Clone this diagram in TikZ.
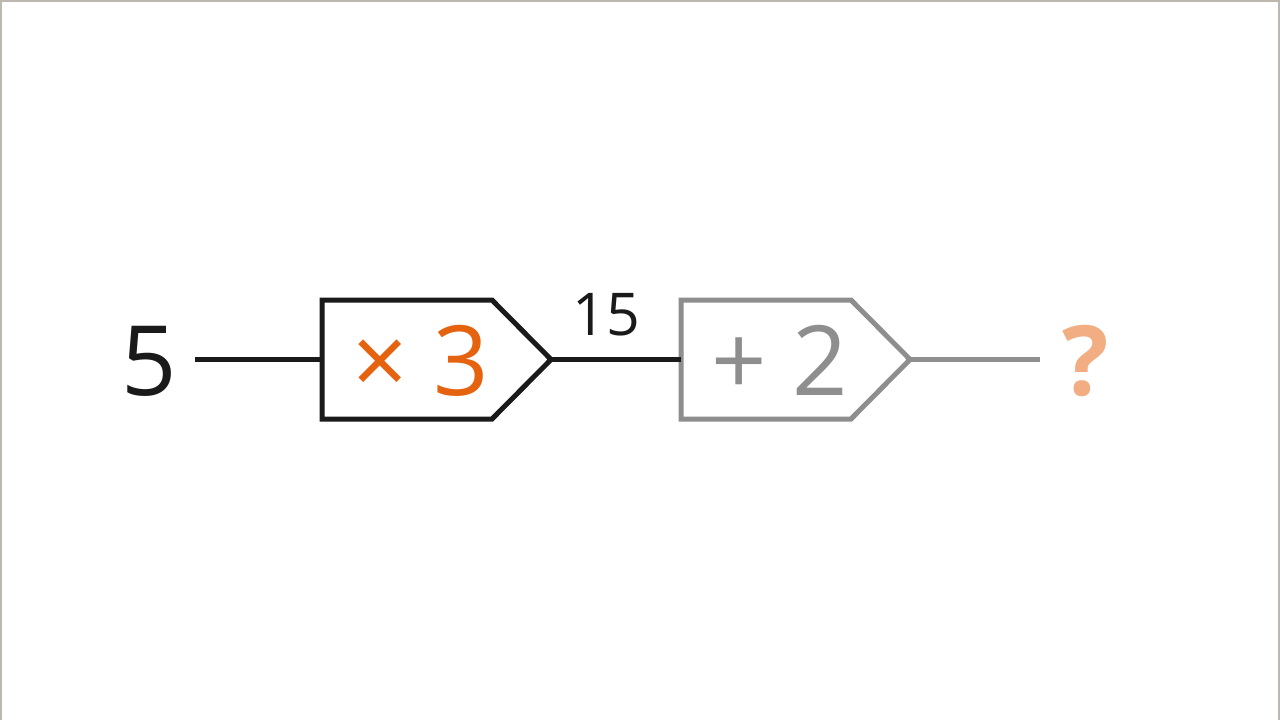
\documentclass[tikz,border=0pt]{standalone}
\usepackage{fontspec}
\setmainfont{Open Sans}
\definecolor{inkblack}{HTML}{1A1A1A}
\definecolor{opgrey}{HTML}{8E8E8E}
\definecolor{oporange}{HTML}{E5620F}
\definecolor{qorange}{HTML}{F2AE82}
\definecolor{framegrey}{HTML}{BEB9B0}
\tikzset{
  bigtext/.style={inner sep=0pt, anchor=base, font=\fontsize{97}{97}\selectfont},
  smalltext/.style={inner sep=0pt, anchor=base, font=\fontsize{59}{59}\selectfont},
  opbox/.style={line width=5pt, line join=miter},
  wire/.style={line width=5pt}
}
\begin{document}
\begin{tikzpicture}[x=1pt,y=-1pt]
\useasboundingbox (0,0) rectangle (1280,720);
\fill[white] (0,0) rectangle (1280,720);
% frame
\draw[framegrey, line width=2pt] (1,720) -- (1,1) -- (1279,1) -- (1279,720);

% text nodes
\node[bigtext, text=inkblack] (five) at (149,395) {5};
\node[smalltext, text=inkblack] (fifteen) at (606,335) {15};
\node[bigtext, text=oporange] (times) at (421,395) {× 3};
\node[bigtext, text=opgrey] (plus) at (779.5,395) {+ 2};
\node[bigtext, text=qorange, font=\fontsize{97}{97}\selectfont\bfseries] (quest) at (1086,395) {?};

% operation boxes
\draw[opbox, inkblack] (322,300) -- (492,300) -- (551,359.5) coordinate (b1out)
  -- (492,419) -- (322,419) -- cycle;
\coordinate (b1in) at (322,359.5);
\draw[opbox, opgrey] (681,300) -- (851,300) -- (910,359.5) coordinate (b2out)
  -- (851,419) -- (681,419) -- cycle;
\coordinate (b2in) at (681,359.5);

% connectors
\coordinate (fiveend) at (195,359.5);
\coordinate (questend) at (1040,359.5);
\draw[wire, inkblack] (fiveend) -- (b1in);
\draw[wire, inkblack] (b1out) -- (b2in);
\draw[wire, opgrey] (b2out) -- (questend);
\end{tikzpicture}
\end{document}
